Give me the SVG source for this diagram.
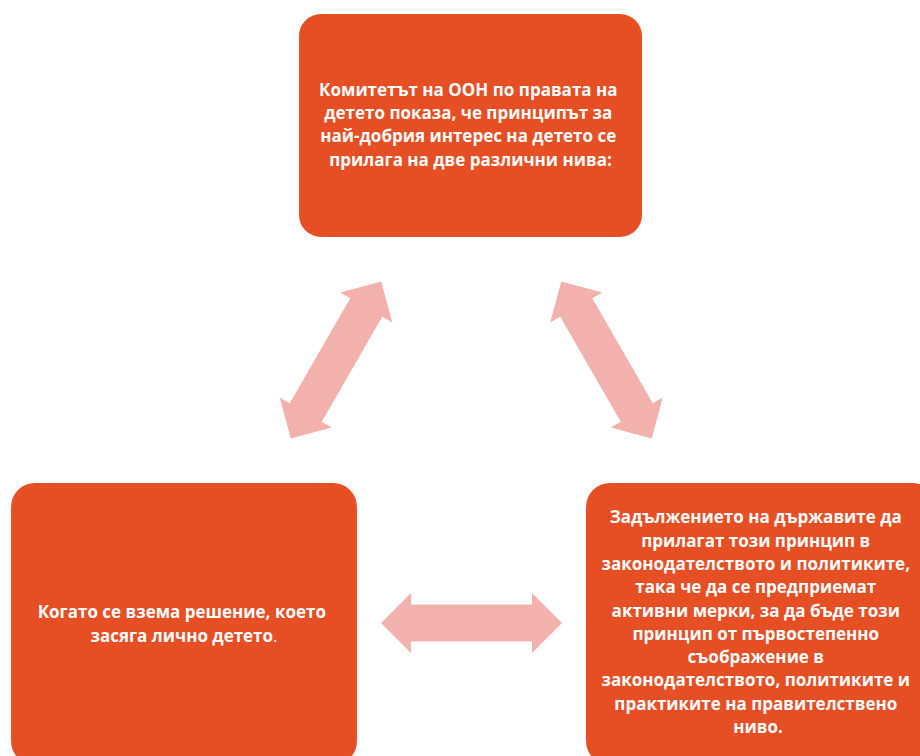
<svg xmlns="http://www.w3.org/2000/svg" width="920" height="756" viewBox="0 0 920 756">
  <style>
    .box { fill: #E64E24; }
    .arrow { fill: #F2B1AC; }
    .t { font-family: "Open Sans", "Noto Sans", "Liberation Sans", sans-serif; font-weight: 700; font-size: 17px; fill: #FFFFFF; text-anchor: middle; }
  </style>
  <defs>
    <path id="dbl" d="M -90.5 0 L -60.5 -30 L -60.5 -18.5 L 60.5 -18.5 L 60.5 -30 L 90.5 0 L 60.5 30 L 60.5 18.5 L -60.5 18.5 L -60.5 30 Z"/>
  </defs>
  <g id="connectors">
    <use href="#dbl" class="arrow" transform="translate(336 360) rotate(-60)"/>
    <use href="#dbl" class="arrow" transform="translate(606.5 360) rotate(60)"/>
    <use href="#dbl" class="arrow" transform="translate(471.5 623)"/>
  </g>
  <g id="node-top">
    <rect class="box" x="299" y="14" width="343" height="223" rx="22"/>
    <text class="t">
      <tspan x="470.5" y="96">Комитетът на ООН по правата на</tspan>
      <tspan x="470.5" y="119">детето показа, че принципът за</tspan>
      <tspan x="470.5" y="142.3">най-добрия интерес на детето се</tspan>
      <tspan x="470.5" y="165.5">прилага на две различни нива:</tspan>
    </text>
  </g>
  <g id="node-left">
    <rect class="box" x="11" y="483" width="346" height="282" rx="24"/>
    <text class="t">
      <tspan x="184" y="618">Когато се взема решение, което</tspan>
      <tspan x="184" y="642">засяга лично детето<tspan font-weight="400">.</tspan></tspan>
    </text>
  </g>
  <g id="node-right">
    <rect class="box" x="586" y="483" width="350" height="282" rx="24"/>
    <text class="t">
      <tspan x="758" y="523.3">Задължението на държавите да</tspan>
      <tspan x="758" y="546.6">прилагат този принцип в</tspan>
      <tspan x="758" y="570">законодателството и политиките,</tspan>
      <tspan x="758" y="593.2">така че да се предприемат</tspan>
      <tspan x="758" y="616.5">активни мерки, за да бъде този</tspan>
      <tspan x="758" y="639.8">принцип от първостепенно</tspan>
      <tspan x="758" y="663">съображение в</tspan>
      <tspan x="758" y="686.4">законодателството, политиките и</tspan>
      <tspan x="758" y="709.7">практиките на правителствено</tspan>
      <tspan x="758" y="733">ниво.</tspan>
    </text>
  </g>
</svg>
